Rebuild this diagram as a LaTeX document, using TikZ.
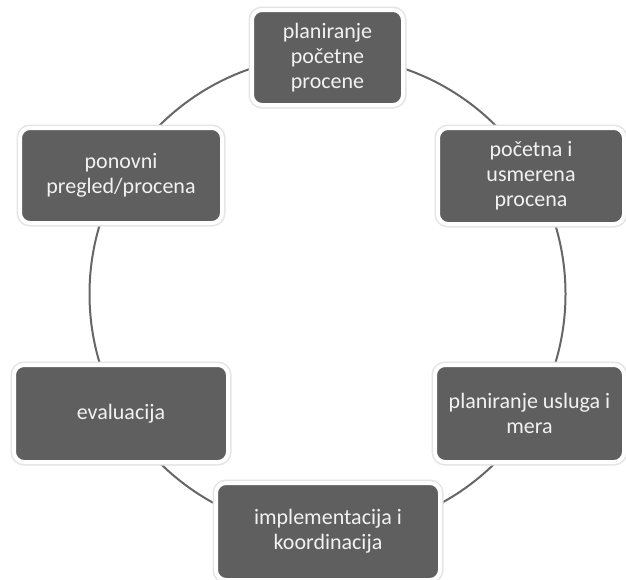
\documentclass[tikz,border=0pt]{standalone}
\usepackage{fontspec}
\setmainfont{Carlito}
\definecolor{boxgray}{HTML}{5F5F5F}
\definecolor{boxtext}{HTML}{F2F2F2}
\definecolor{ringgray}{HTML}{666666}
\definecolor{haze}{HTML}{E4E4E4}
\begin{document}
\begin{tikzpicture}[x=1pt,y=-1pt,
  stage/.style={rectangle, rounded corners=10pt, fill=boxgray, text=boxtext,
    align=center, font=\fontsize{22}{25}\selectfont, inner sep=0pt,
    preaction={draw=haze, line width=7pt}, draw=white, line width=4pt},
  ring/.style={draw=ringgray, line width=2pt}
]
\useasboundingbox (0,0) rectangle (626,579);
\fill[white] (0,0) rectangle (626,579);

% the cycle ring behind the stages
\coordinate (hub) at (327.5,294);
\draw[ring] (hub) circle[radius=238];

% stages of the cycle
\node[stage, minimum width=151pt, minimum height=95pt] (plan) at (327.5,57.5)
  {planiranje\\početne\\procene};
\node[stage, minimum width=186pt, minimum height=96pt] (assess) at (531,176)
  {početna i\\usmerena\\procena};
\node[stage, minimum width=189pt, minimum height=97pt] (services) at (529.5,413.5)
  {planiranje usluga i\\mera};
\node[stage, minimum width=224pt, minimum height=97pt] (implement) at (328,531.5)
  {implementacija i\\koordinacija};
\node[stage, minimum width=214pt, minimum height=97pt] (evaluate) at (121,413.5)
  {evaluacija};
\node[stage, minimum width=202pt, minimum height=95pt] (review) at (121,175.5)
  {ponovni\\pregled/procena};
\end{tikzpicture}
\end{document}
